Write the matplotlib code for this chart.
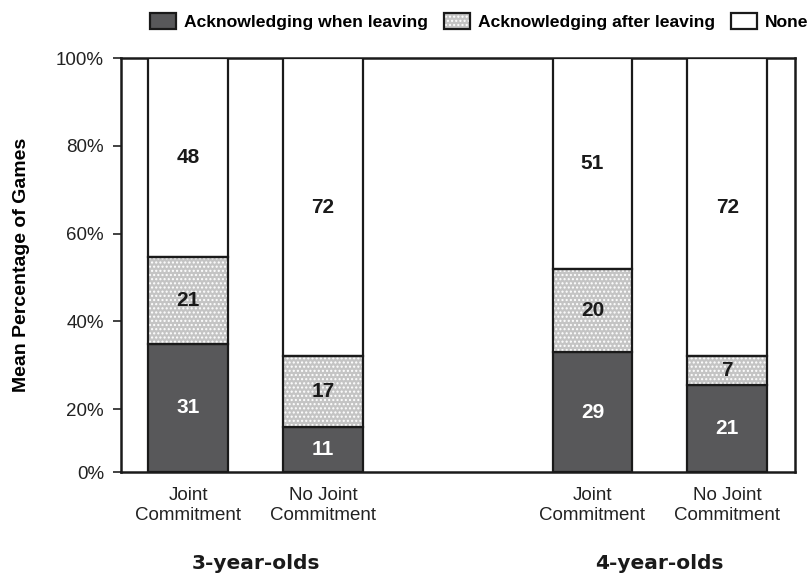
import matplotlib
matplotlib.use('Agg')
import matplotlib.pyplot as plt
from matplotlib.patches import Patch
from matplotlib.legend_handler import HandlerTuple
import numpy as np

plt.rcParams['font.family'] = ['Liberation Sans', 'DejaVu Sans']

# Data (mean percentage of games)
conditions = ['Joint\nCommitment', 'No Joint\nCommitment', 'Joint\nCommitment', 'No Joint\nCommitment']
groups = ['3-year-olds', '4-year-olds']
when_leaving = [31, 11, 29, 21]
after_leaving = [21, 17, 20, 7]
none = [48, 72, 51, 72]
series_names = ['Acknowledging when leaving', 'Acknowledging after leaving', 'None']

# tick labels as printed in the source figure (their positions are uneven there)
ytick_labels = ['0%', '20%', '40%', '60%', '80%', '100%']
ytick_pos = [0, 15.2, 36.4, 57.6, 78.8, 100]

dark = '#58585a'
dotted = '#c4c4c4'

x = np.array([0, 1, 3, 4])
w = 0.59

fig = plt.figure(figsize=(8.1, 5.75), dpi=100)
ax = fig.add_axes([0.149, 0.179, 0.832, 0.72])

b1 = np.array(when_leaving)
b2 = b1 + np.array(after_leaving)

ax.bar(x, when_leaving, w, color=dark, edgecolor='#1a1a1a', linewidth=1.6, zorder=3)
# dotted segment: grey with white dots, then black outline on top
ax.bar(x, after_leaving, w, bottom=b1, color=dotted, edgecolor='white', hatch='....',
       linewidth=0, zorder=3)
ax.bar(x, after_leaving, w, bottom=b1, fill=False, edgecolor='#1a1a1a', linewidth=1.6, zorder=4)
ax.bar(x, none, w, bottom=b2, color='white', edgecolor='#1a1a1a', linewidth=1.6, zorder=3)

for i in range(len(x)):
    ax.text(x[i], when_leaving[i] / 2, str(when_leaving[i]), ha='center', va='center',
            color='white', fontsize=15, fontweight='bold', zorder=5)
    ax.text(x[i], b1[i] + after_leaving[i] / 2, str(after_leaving[i]), ha='center', va='center',
            color='#1a1a1a', fontsize=15, fontweight='bold', zorder=5)
    ax.text(x[i], b2[i] + none[i] / 2, str(none[i]), ha='center', va='center',
            color='#1a1a1a', fontsize=15, fontweight='bold', zorder=5)

ax.set_xlim(-0.5, 4.5)
ax.set_ylim(0, 100)
ax.set_yticks(ytick_pos)
ax.set_yticklabels(ytick_labels, fontsize=13.5, color='#222222')
ax.set_xticks(x)
ax.set_xticklabels(conditions, fontsize=13.5, color='#222222', linespacing=1.2)
ax.tick_params(axis='x', length=0, pad=11)
ax.tick_params(axis='y', length=6, width=1.2, color='#222222', pad=6)
for s in ax.spines.values():
    s.set_linewidth(1.8)
    s.set_color('#1a1a1a')

ax.set_ylabel('Mean Percentage of Games', fontsize=14, fontweight='bold')
ax.yaxis.set_label_coords(-0.135, 0.5)

# group labels under the conditions
for gi, g in enumerate(groups):
    ax.text(x[2 * gi:2 * gi + 2].mean(), -22, g, ha='center', va='center',
            fontsize=14.5, fontweight='bold', family='DejaVu Sans', color='#1a1a1a',
            clip_on=False)

handles = [
    Patch(facecolor=dark, edgecolor='#1a1a1a', linewidth=1.6),
    (Patch(facecolor=dotted, edgecolor='white', hatch='....', linewidth=0),
     Patch(fill=False, edgecolor='#1a1a1a', linewidth=1.6)),
    Patch(facecolor='white', edgecolor='#1a1a1a', linewidth=1.6),
]
fig.legend(handles, series_names, loc='center right', bbox_to_anchor=(0.998, 0.963), ncol=3,
           frameon=False, handlelength=1.5, handleheight=1.1,
           handletextpad=0.45, columnspacing=0.9, borderaxespad=0, borderpad=0,
           handler_map={tuple: HandlerTuple(ndivide=1, pad=0)},
           prop={'weight': 'bold', 'size': 12.6})

fig.savefig('out.png', dpi=100)
